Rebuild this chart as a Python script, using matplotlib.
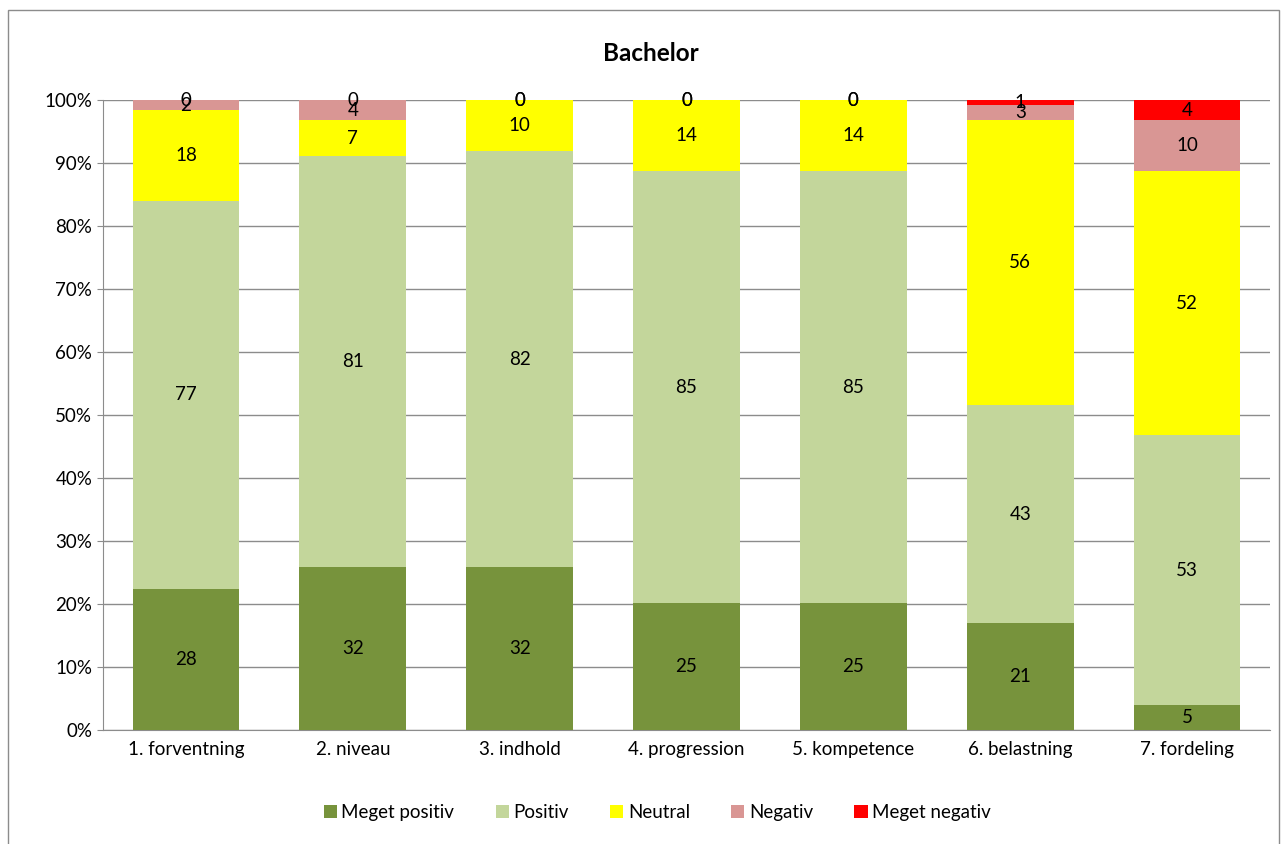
import numpy as np
import matplotlib.pyplot as plt
from matplotlib.patches import Rectangle

categories = ['1. forventning', '2. niveau', '3. indhold', '4. progression',
              '5. kompetence', '6. belastning', '7. fordeling']
series = ['Meget positiv', 'Positiv', 'Neutral', 'Negativ', 'Meget negativ']
meget_positiv = [28, 32, 32, 25, 25, 21, 5]
positiv = [77, 81, 82, 85, 85, 43, 53]
neutral = [18, 7, 10, 14, 14, 56, 52]
negativ = [2, 4, 0, 0, 0, 3, 10]
meget_negativ = [0, 0, 0, 0, 0, 1, 4]
colors = ['#77933C', '#C3D69B', '#FFFF00', '#D99694', '#FF0000']

plt.rcParams['font.family'] = ['Lato', 'DejaVu Sans']
fs = 13.5

counts = np.array([meget_positiv, positiv, neutral, negativ, meget_negativ], dtype=float)
shares = counts / counts.sum(axis=0)

fig = plt.figure(figsize=(12.82, 8.44), dpi=100)
ax = fig.add_axes([0.080, 0.135, 0.911, 0.7465])
fig.patches.append(Rectangle((8 / 1282, -0.01), 1271 / 1282, 1 - 10 / 844 + 0.01,
                             transform=fig.transFigure, fill=False,
                             edgecolor='#8c8c8c', linewidth=1))

x = np.arange(len(categories))
bottom = np.zeros(len(categories))
for i, name in enumerate(series):
    ax.bar(x, shares[i], 0.64, bottom=bottom, color=colors[i], label=name, zorder=3)
    for j in range(len(categories)):
        ax.text(x[j], bottom[j] + shares[i][j] / 2, f'{int(counts[i][j])}',
                ha='center', va='center', fontsize=fs, zorder=4)
    bottom += shares[i]

ax.set_xlim(-0.5, len(categories) - 0.5)
ax.set_ylim(0, 1)
ax.set_yticks(np.arange(0, 1.01, 0.1))
ax.set_yticklabels([f'{int(round(v * 100))}%' for v in np.arange(0, 1.01, 0.1)], fontsize=fs)
ax.set_xticks(x)
ax.set_xticklabels(categories, fontsize=fs)
ax.tick_params(axis='y', length=4, color='#8c8c8c')
ax.tick_params(axis='x', length=0, pad=8)
ax.grid(axis='y', color='#8c8c8c', linewidth=1, zorder=0)
for s in ['top', 'right']:
    ax.spines[s].set_visible(False)
ax.spines['left'].set_color('#8c8c8c')
ax.spines['bottom'].set_color('#8c8c8c')

fig.text(0.508, 0.937, 'Bachelor', ha='center', va='center', fontsize=17.5, fontweight='bold')
ax.legend(loc='upper center', bbox_to_anchor=(0.475, -0.09), ncol=5, frameon=False,
          fontsize=fs, handlelength=0.7, handleheight=0.7, handletextpad=0.25,
          columnspacing=2.2)

fig.savefig('out.png', dpi=100)
